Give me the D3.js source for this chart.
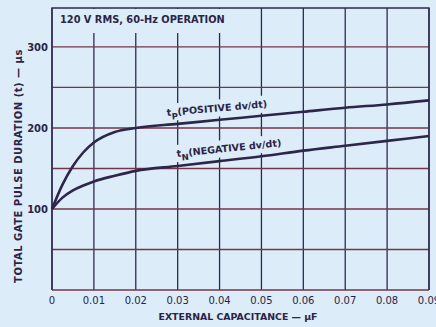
<!DOCTYPE html>
<html>
<head>
<meta charset="utf-8">
<script src="https://cdn.jsdelivr.net/npm/d3@7"></script>
<style>
  body { margin: 0; background: #dcedf9; }
  svg { display: block; }
  text { font-family: "DejaVu Sans", sans-serif; fill: #2b2446; font-weight: bold; }
</style>
</head>
<body>
<script>
var width = 436,
    height = 327;

// data
var capacitance = [0, 0.0025, 0.005, 0.0075, 0.01, 0.015, 0.02, 0.03, 0.04, 0.05, 0.06, 0.07, 0.08, 0.09];
var tPositive   = [100, 130, 153, 170, 182, 195, 200, 205, 210, 215, 220, 225, 229, 234];
var tNegative   = [100, 114, 123, 129, 134, 141, 147, 153, 159, 165, 172, 178, 184, 190];

var xTicks = [0, 0.01, 0.02, 0.03, 0.04, 0.05, 0.06, 0.07, 0.08, 0.09];
var xTickLabels = ["0", "0.01", "0.02", "0.03", "0.04", "0.05", "0.06", "0.07", "0.08", "0.09"];
var yGrid = [0, 50, 100, 150, 200, 250, 300];
var yTicks = [100, 200, 300];
var yTickLabels = ["100", "200", "300"];

var plotLeft = 52, plotRight = 429, plotTop = 8, plotBottom = 290;

var x = d3.scaleLinear().domain([0, 0.09]).range([plotLeft, plotRight]);
var y = d3.scaleLinear().domain([0, 348]).range([plotBottom, plotTop]);

var svg = d3.select("body").append("svg")
    .attr("width", width)
    .attr("height", height);

// vertical grid
svg.append("g").attr("class", "vgrid")
  .selectAll("line").data(xTicks)
  .enter().append("line")
    .attr("x1", d => x(d)).attr("x2", d => x(d))
    .attr("y1", plotTop).attr("y2", plotBottom)
    .attr("stroke", "#2e2a4e")
    .attr("stroke-width", 1.3);

// horizontal grid (scan shows reddish fringing)
svg.append("g").attr("class", "hgrid")
  .selectAll("line").data(yGrid)
  .enter().append("line")
    .attr("x1", plotLeft).attr("x2", plotRight)
    .attr("y1", d => y(d)).attr("y2", d => y(d))
    .attr("stroke", "#74344a")
    .attr("stroke-width", 1.4);

// frame
svg.append("path")
    .attr("d", "M" + plotLeft + "," + plotBottom + "V" + plotTop + "H" + plotRight + "V" + plotBottom)
    .attr("fill", "none")
    .attr("stroke", "#2e2a4e")
    .attr("stroke-width", 1.4);

// title box knocks out the grid
svg.append("rect")
    .attr("x", plotLeft + 1).attr("y", plotTop + 1)
    .attr("width", 176).attr("height", 24)
    .attr("fill", "#dcedf9");

svg.append("text")
    .attr("x", 60).attr("y", 23)
    .style("font-size", "9.8px")
    .text("120 V RMS, 60-Hz OPERATION");

// curves
var line = d3.line()
    .x((d, i) => x(capacitance[i]))
    .y(d => y(d))
    .curve(d3.curveMonotoneX);

[tPositive, tNegative].forEach(function(s) {
  svg.append("path")
      .datum(s)
      .attr("d", line)
      .attr("fill", "none")
      .attr("stroke", "#2e2548")
      .attr("stroke-width", 2.6);
});

// curve labels
function curveLabel(tx, ty, angle, sub, rest, w) {
  var g = svg.append("g")
      .attr("transform", "translate(" + tx + "," + ty + ") rotate(" + angle + ")");
  g.append("rect")
      .attr("x", -2).attr("y", -12)
      .attr("width", w).attr("height", 17)
      .attr("fill", "#dcedf9");
  var t = g.append("text").style("font-size", "9.6px");
  t.append("tspan").text("t");
  t.append("tspan").attr("dy", 4).style("font-size", "8.5px").text(sub);
  t.append("tspan").attr("dy", -4).text(rest);
}
curveLabel(167, 116, -5, "P", "(POSITIVE dv/dt)", 112);
curveLabel(177, 157, -6, "N", "(NEGATIVE dv/dt)", 116);

// tick labels
svg.append("g")
  .selectAll("text").data(xTicks)
  .enter().append("text")
    .attr("x", d => x(d))
    .attr("y", 304)
    .attr("text-anchor", "middle")
    .style("font-size", "10px")
    .style("font-weight", "normal")
    .text((d, i) => xTickLabels[i]);

svg.append("g")
  .selectAll("text").data(yTicks)
  .enter().append("text")
    .attr("x", 48)
    .attr("y", d => y(d) + 4)
    .attr("text-anchor", "end")
    .style("font-size", "10px")
    .text((d, i) => yTickLabels[i]);

// axis titles
svg.append("text")
    .attr("x", 238).attr("y", 320)
    .attr("text-anchor", "middle")
    .style("font-size", "9.4px")
    .text("EXTERNAL CAPACITANCE \u2014 \u03bcF");

svg.append("text")
    .attr("transform", "translate(22,166) rotate(-90)")
    .attr("text-anchor", "middle")
    .style("font-size", "10px")
    .style("letter-spacing", "0.5px")
    .text("TOTAL GATE PULSE DURATION (t) \u2014 \u03bcs");
</script>
</body>
</html>
